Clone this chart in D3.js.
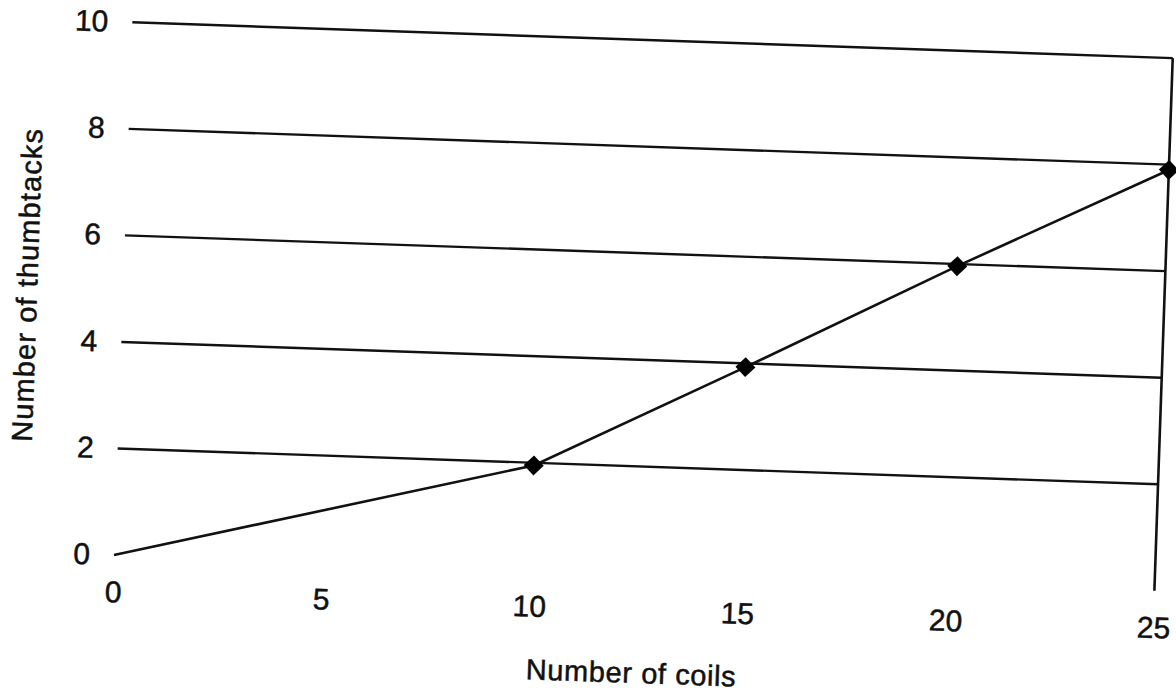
<!DOCTYPE html>
<html>
<head>
<meta charset="utf-8">
<script src="https://cdn.jsdelivr.net/npm/d3@7"></script>
<style>
  html, body { margin: 0; padding: 0; background: #fff; }
  svg { display: block; }
  text { font-family: "Liberation Sans", Arial, sans-serif; fill: #111; }
</style>
</head>
<body>
<script>
// ---- data ----
const coils = [0, 10, 15, 20, 25];
const thumbtacks = [0, 1.95, 3.93, 5.96, 7.9];
const xTicks = [0, 5, 10, 15, 20, 25];
const yTicks = [0, 2, 4, 6, 8, 10];
const gridValues = [2, 4, 6, 8, 10];
const xTitle = "Number of coils";
const yTitle = "Number of thumbtacks";

// ---- layout ----
const W = 1176, H = 696;
const originX = 114, originY = 555;   // pixel position of (0,0)
const plotW = 1041, plotH = 533;
const tilt = 1.97;                     // the scanned page is slightly rotated

const svg = d3.select("body").append("svg")
  .attr("width", W).attr("height", H)
  .style("background", "#fff");

const g = svg.append("g")
  .attr("transform", `translate(${originX},${originY}) rotate(${tilt})`);

const x = d3.scaleLinear().domain([0, 25]).range([0, plotW]);
const y = d3.scaleLinear().domain([0, 10]).range([0, -plotH]);

// gridlines
g.selectAll("line.grid").data(gridValues).join("line")
  .attr("class", "grid")
  .attr("x1", x(0)).attr("x2", x(25))
  .attr("y1", d => y(d)).attr("y2", d => y(d))
  .attr("stroke", "#111").attr("stroke-width", 2.4);

// right border line
g.append("line")
  .attr("x1", x(25)).attr("x2", x(25))
  .attr("y1", y(0)).attr("y2", y(10))
  .attr("stroke", "#111").attr("stroke-width", 2.6);

const textStyle = sel => sel
  .style("font-family", "'Liberation Sans', Arial, sans-serif")
  .attr("fill", "#111")
  .attr("stroke", "#111")
  .attr("stroke-width", 0.5);

// y axis labels
const yAxis = g.append("g")
  .call(d3.axisLeft(y).tickValues(yTicks).tickSize(0).tickPadding(24).tickFormat(d3.format("d")));
yAxis.select(".domain").remove();
yAxis.selectAll("text").call(textStyle).style("font-size", "30px");

// x axis labels
const xAxis = g.append("g")
  .call(d3.axisBottom(x).tickValues(xTicks).tickSize(0).tickPadding(26).tickFormat(d3.format("d")));
xAxis.select(".domain").remove();
xAxis.selectAll("text").call(textStyle).style("font-size", "30px");

// data line
const pts = coils.map((c, i) => [c, thumbtacks[i]]);
g.append("path")
  .datum(pts)
  .attr("fill", "none")
  .attr("stroke", "#111")
  .attr("stroke-width", 2.6)
  .attr("d", d3.line().x(d => x(d[0])).y(d => y(d[1])));

// diamond markers (skip the origin)
g.selectAll("path.marker").data(pts.slice(1)).join("path")
  .attr("class", "marker")
  .attr("d", d3.symbol(d3.symbolSquare, 200))
  .attr("transform", d => `translate(${x(d[0])},${y(d[1])}) rotate(45)`)
  .attr("fill", "#000");

// axis titles
g.append("text")
  .attr("x", plotW / 2).attr("y", 110)
  .attr("text-anchor", "middle")
  .attr("textLength", 210).attr("lengthAdjust", "spacing")
  .call(textStyle)
  .style("font-size", "29px")
  .text(xTitle);

g.append("text")
  .attr("transform", `translate(-86,${-plotH / 2}) rotate(-90)`)
  .attr("text-anchor", "middle")
  .attr("textLength", 313).attr("lengthAdjust", "spacing")
  .call(textStyle)
  .style("font-size", "29px")
  .text(yTitle);
</script>
</body>
</html>
